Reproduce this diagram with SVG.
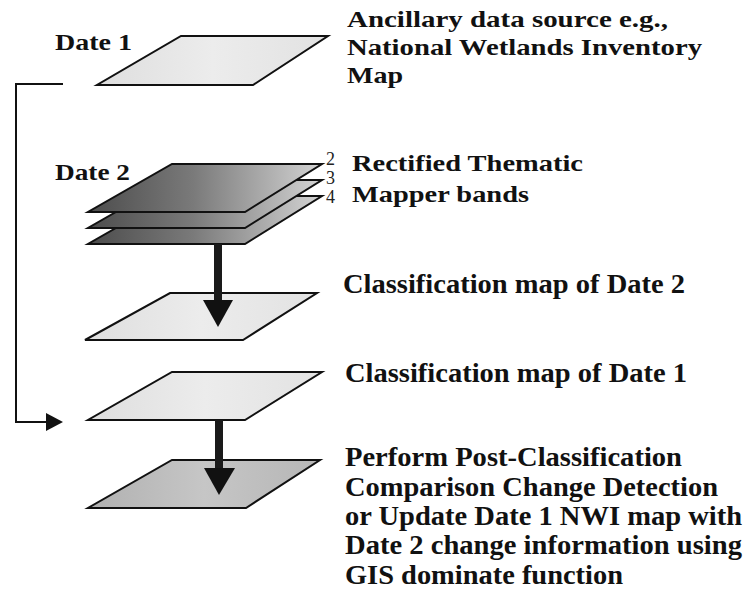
<svg xmlns="http://www.w3.org/2000/svg" width="746" height="592" viewBox="0 0 746 592">
<defs>
<style>
.lbl{font-family:"Liberation Serif","Times New Roman",serif;font-weight:bold;fill:#111}
.s{font-size:24px}
.b{font-size:27px}
.num{font-family:"Liberation Serif","Times New Roman",serif;font-size:18px;fill:#222}
.pg{stroke:#111;stroke-width:2;stroke-linejoin:miter}
.light{fill:url(#gLight)}
.band{fill:url(#gBand)}
.dark{fill:url(#gDark)}
.conn{fill:none;stroke:#111;stroke-width:2}
.shaft{stroke:#1a1a1a;stroke-width:8}
.head{fill:#111}
</style>
<linearGradient id="gLight" x1="0" y1="0" x2="1" y2="0">
<stop offset="0" stop-color="#dedede"/>
<stop offset="0.5" stop-color="#ececec"/>
<stop offset="1" stop-color="#e2e2e2"/>
</linearGradient>
<linearGradient id="gBand" x1="0" y1="0" x2="1" y2="0">
<stop offset="0" stop-color="#4c4c4c"/>
<stop offset="0.45" stop-color="#7a7a7a"/>
<stop offset="1" stop-color="#d4d4d4"/>
</linearGradient>
<linearGradient id="gDark" x1="0" y1="0" x2="1" y2="0">
<stop offset="0" stop-color="#b0b0b0"/>
<stop offset="0.5" stop-color="#c6c6c6"/>
<stop offset="1" stop-color="#b6b6b6"/>
</linearGradient>
</defs>
<rect width="746" height="592" fill="#fff"/>

<g id="date1-map">
<polygon class="pg light" points="181,36 328,36 253,85 97,85"/>
<text class="lbl s" x="55" y="50" textLength="77" lengthAdjust="spacingAndGlyphs">Date 1</text>
<text class="lbl s" x="347" y="27" textLength="321" lengthAdjust="spacingAndGlyphs">Ancillary data source e.g.,</text>
<text class="lbl s" x="347" y="55" textLength="355" lengthAdjust="spacingAndGlyphs">National Wetlands Inventory</text>
<text class="lbl s" x="347" y="83" textLength="56" lengthAdjust="spacingAndGlyphs">Map</text>
</g>

<g id="date2-bands">
<polygon class="pg band" points="172,196 322,196 245,244 88,244"/>
<polygon class="pg band" points="172,180 322,180 245,228 88,228"/>
<polygon class="pg band" points="172,164 322,164 245,212 88,212"/>
<text class="num" x="326" y="165">2</text>
<text class="num" x="326" y="184">3</text>
<text class="num" x="326" y="203">4</text>
<text class="lbl s" x="55" y="180" textLength="75" lengthAdjust="spacingAndGlyphs">Date 2</text>
<text class="lbl s" x="352" y="171" textLength="231" lengthAdjust="spacingAndGlyphs">Rectified Thematic</text>
<text class="lbl s" x="352" y="202" textLength="177" lengthAdjust="spacingAndGlyphs">Mapper bands</text>
</g>

<g id="class-map-date2">
<polygon class="pg light" points="170,293 317,293 243,340 85,340"/>
<text class="lbl b" x="343" y="293" textLength="342" lengthAdjust="spacingAndGlyphs">Classification map of Date 2</text>
</g>

<g id="class-map-date1">
<polygon class="pg light" points="172,372 322,372 245,420 88,420"/>
<text class="lbl b" x="345" y="382" textLength="342" lengthAdjust="spacingAndGlyphs">Classification map of Date 1</text>
</g>

<g id="change-detection">
<polygon class="pg dark" points="172,460 320,460 246,508 88,508"/>
<text class="lbl b" x="345" y="466" textLength="337" lengthAdjust="spacingAndGlyphs">Perform Post-Classification</text>
<text class="lbl b" x="345" y="495.5" textLength="373" lengthAdjust="spacingAndGlyphs">Comparison Change Detection</text>
<text class="lbl b" x="345" y="525" textLength="397" lengthAdjust="spacingAndGlyphs">or Update Date 1 NWI map with</text>
<text class="lbl b" x="345" y="554" textLength="397" lengthAdjust="spacingAndGlyphs">Date 2 change information using</text>
<text class="lbl b" x="345" y="583.5" textLength="278" lengthAdjust="spacingAndGlyphs">GIS dominate function</text>
</g>

<g id="connectors">
<polyline class="conn" points="63,84 16,84 16,422 47,422"/>
<polygon class="head" points="46,413 63,422 46,431"/>
<line class="shaft" x1="218" y1="244" x2="218" y2="301"/>
<polygon class="head" points="203,300 233,300 218,327"/>
<line class="shaft" x1="219" y1="420" x2="219" y2="469"/>
<polygon class="head" points="204,468 235,468 219,495"/>
</g>
</svg>
